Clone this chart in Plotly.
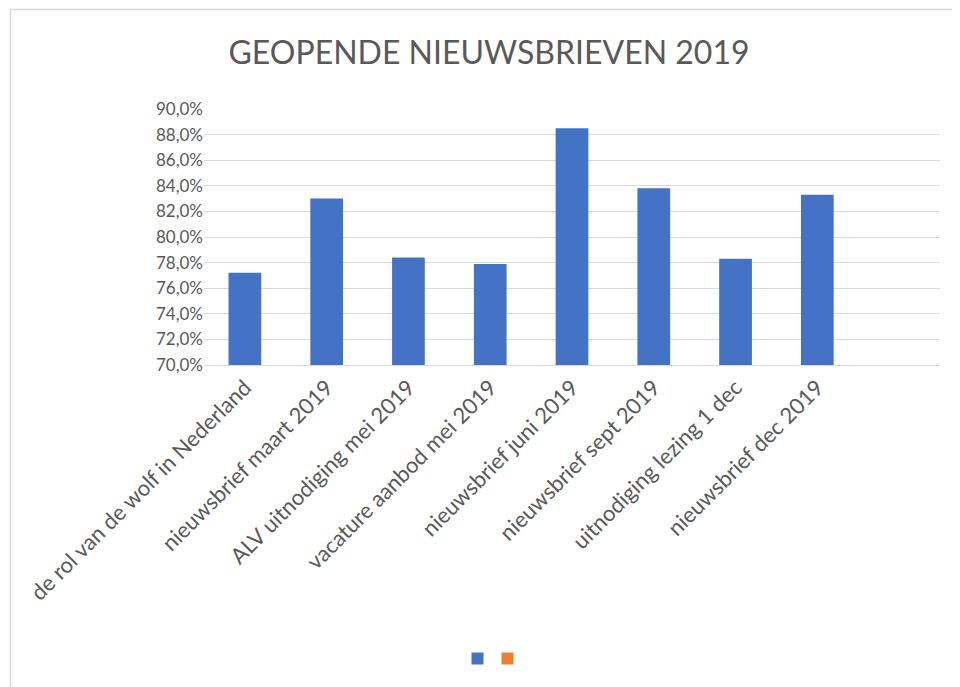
import plotly.graph_objects as go

categories = [
    "de rol van de wolf in Nederland",
    "nieuwsbrief maart 2019",
    "ALV uitnodiging mei 2019",
    "vacature aanbod mei 2019",
    "nieuwsbrief juni 2019",
    "nieuwsbrief sept 2019",
    "uitnodiging lezing 1 dec",
    "nieuwsbrief dec 2019",
]
opened = [0.772, 0.830, 0.784, 0.779, 0.885, 0.838, 0.783, 0.833]
series2 = [None] * len(categories)
y_ticks = [0.70, 0.72, 0.74, 0.76, 0.78, 0.80, 0.82, 0.84, 0.86, 0.88, 0.90]

FONT = "Lato"
GREY = "#595959"
OFF = 8  # page body margin

W, H = 960, 687
# plot area in reference pixel coords
PL, PR, PT, PB = 204, 940, 108.7, 365.3
L = PL - OFF
T = PT - OFF
R = W - (PR - OFF)
B = H - (PB - OFF)
pw = PR - PL
ph = PB - PT

def px(x):
    return (x - PL) / pw

def py(y):
    return (PB - y) / ph

fig = go.Figure()
fig.add_trace(go.Bar(x=categories, y=opened, name=" ", marker_color="#4472C4",
                     marker_line_width=0, width=0.4, legend="legend"))
fig.add_trace(go.Bar(x=categories, y=series2, name=" ", marker_color="#ED7D31",
                     marker_line_width=0, width=0.4, legend="legend2"))

border = dict(color="#D9D9D9", width=1.5)

fig.update_layout(
    width=W, height=H,
    margin=dict(l=L, r=R, t=T, b=B, autoexpand=False),
    paper_bgcolor="white", plot_bgcolor="white",
    barmode="overlay",
    separators=",.",
    font=dict(family=FONT, color=GREY),
    title=dict(text="GEOPENDE NIEUWSBRIEVEN 2019", x=px(489), xref="paper",
               xanchor="center", y=1 - (53 - OFF) / H, yanchor="middle",
               font=dict(size=32, color=GREY, family=FONT)),
    xaxis=dict(type="category", categoryorder="array", categoryarray=categories,
               range=[-0.5, 8.5], tickangle=-45, showgrid=False, automargin=False,
               showline=True, linecolor="#D9D9D9", linewidth=1,
               ticks="", tickfont=dict(size=22, color=GREY, family=FONT)),
    yaxis=dict(range=[0.70, 0.90], tickvals=y_ticks, tickformat=".1%", automargin=False,
               showgrid=True, gridcolor="#D9D9D9", gridwidth=1, zeroline=False,
               showline=False, ticks="", tickfont=dict(size=17, color=GREY, family=FONT)),
    showlegend=True,
    legend=dict(orientation="h", x=px(481.5), xanchor="center", y=py(659.5), yanchor="middle",
                font=dict(size=10), itemwidth=30),
    legend2=dict(orientation="h", x=px(511.5), xanchor="center", y=py(659.5), yanchor="middle",
                 font=dict(size=10), itemwidth=30),
    shapes=[
        dict(type="line", xref="paper", yref="paper",
             x0=px(10), x1=px(960), y0=py(9), y1=py(9), line=border, layer="below"),
        dict(type="line", xref="paper", yref="paper",
             x0=px(10.5), x1=px(10.5), y0=py(9), y1=py(700), line=border, layer="below"),
    ],
)

fig.write_html("out.html")
